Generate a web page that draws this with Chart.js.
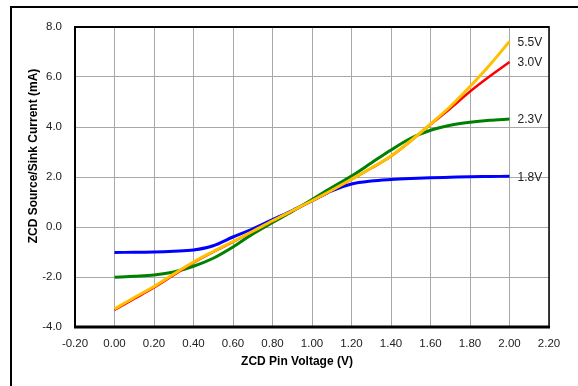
<!DOCTYPE html>
<html>
<head>
<meta charset="utf-8">
<script src="https://cdn.jsdelivr.net/npm/chart.js@4.4.1/dist/chart.umd.min.js"></script>
<style>
  html, body { margin: 0; padding: 0; background: #fff; overflow: hidden; }
  #wrap { position: relative; width: 578px; height: 386px; }
  #frame { position: absolute; left: 10px; top: 6px; width: 700px; height: 500px;
           border: 2px solid #000; box-sizing: border-box; pointer-events: none; }
  canvas { position: absolute; left: 0; top: 0; }
</style>
</head>
<body>
<div id="wrap">
  <div id="frame"></div>
  <canvas id="chart" width="578" height="386"></canvas>
</div>
<script>
// ---------------------------------------------------------------------------
// Data
// ---------------------------------------------------------------------------

const pinVoltage = [0.0, 0.1, 0.2, 0.3, 0.4, 0.5, 0.6, 0.7, 0.8, 0.9, 1.0,
                    1.1, 1.2, 1.3, 1.4, 1.5, 1.6, 1.7, 1.8, 1.9, 2.0];

const cur55 = [-3.28, -2.82, -2.38, -1.88, -1.40, -0.98, -0.58, -0.17, 0.25, 0.65, 1.05,
               1.47, 1.91, 2.36, 2.84, 3.45, 4.12, 4.82, 5.62, 6.48, 7.42];
const cur30 = [-3.32, -2.87, -2.42, -1.92, -1.43, -1.00, -0.60, -0.18, 0.24, 0.64, 1.04,
               1.46, 1.90, 2.35, 2.83, 3.44, 4.10, 4.74, 5.42, 6.03, 6.60];
const cur23 = [-2.01, -1.97, -1.92, -1.80, -1.57, -1.25, -0.80, -0.28, 0.18, 0.62, 1.10,
               1.58, 2.04, 2.56, 3.08, 3.55, 3.87, 4.07, 4.19, 4.27, 4.32];
const cur18 = [-1.02, -1.01, -1.00, -0.97, -0.92, -0.75, -0.40, -0.07, 0.30, 0.66, 1.05,
               1.45, 1.72, 1.84, 1.90, 1.94, 1.97, 1.99, 2.01, 2.02, 2.03];

const seriesLabels = ['5.5V', '3.0V', '2.3V', '1.8V'];
const seriesColors = ['#FFC000', '#FF0000', '#008000', '#0000FF'];
const seriesData = [cur55, cur30, cur23, cur18];

const xTitle = 'ZCD Pin Voltage (V)';
const yTitle = 'ZCD Source/Sink Current (mA)';

const FONT = '"Liberation Sans", Arial, sans-serif';

// ---------------------------------------------------------------------------
// Plugins
// ---------------------------------------------------------------------------

// end-of-line series labels + axis titles + plot border
const decorPlugin = {
  id: 'decor',
  afterDatasetsDraw(chart) {
    const { ctx, chartArea: a, scales } = chart;
    ctx.save();

    // plot border
    ctx.strokeStyle = '#000';
    ctx.lineWidth = 2;
    ctx.beginPath(); ctx.moveTo(a.left, a.top); ctx.lineTo(a.right, a.top); ctx.stroke();
    ctx.beginPath(); ctx.moveTo(a.left, a.top - 1); ctx.lineTo(a.left, a.bottom + 1); ctx.stroke();
    ctx.lineWidth = 1.5;
    ctx.beginPath(); ctx.moveTo(a.right, a.top - 1); ctx.lineTo(a.right, a.bottom); ctx.stroke();
    ctx.lineWidth = 3;
    ctx.beginPath(); ctx.moveTo(a.left - 1, a.bottom); ctx.lineTo(a.right + 1, a.bottom); ctx.stroke();

    // series labels at the end of each line
    ctx.fillStyle = '#222';
    ctx.font = '12px ' + FONT;
    ctx.textAlign = 'left';
    ctx.textBaseline = 'middle';
    chart.data.datasets.forEach(ds => {
      const last = ds.data[ds.data.length - 1];
      const px = scales.x.getPixelForValue(last.x);
      const py = scales.y.getPixelForValue(last.y);
      ctx.fillText(ds.label, px + 8, py + 1);
    });

    // axis titles
    ctx.fillStyle = '#000';
    ctx.font = 'bold 12px ' + FONT;
    ctx.textAlign = 'center';
    ctx.fillText(xTitle, 297, 362);
    ctx.translate(34, 156);
    ctx.rotate(-Math.PI / 2);
    ctx.fillText(yTitle, 0, 0);
    ctx.restore();
  }
};

// ---------------------------------------------------------------------------
// Chart
// ---------------------------------------------------------------------------

const datasets = seriesLabels.map((label, i) => ({
  label,
  data: pinVoltage.map((v, k) => ({ x: v, y: seriesData[i][k] })),
  borderColor: seriesColors[i],
  backgroundColor: seriesColors[i],
  borderWidth: i === 1 ? 2.5 : 3,
  pointRadius: 0,
  cubicInterpolationMode: 'monotone',
  fill: false,
}));

new Chart(document.getElementById('chart'), {
  type: 'line',
  data: { datasets },
  plugins: [decorPlugin],
  options: {
    responsive: false,
    animation: false,
    layout: { padding: { top: 27, right: 29, left: 0, bottom: 0 } },
    plugins: { legend: { display: false }, tooltip: { enabled: false } },
    scales: {
      x: {
        type: 'linear',
        min: -0.2, max: 2.2,
        afterFit: s => { s.height = 59; },
        grid: { color: '#a8a8a8', lineWidth: 1, drawTicks: false },
        border: { display: false },
        ticks: {
          stepSize: 0.2,
          padding: 10,
          color: '#222',
          font: { family: FONT, size: 11.5 },
          maxRotation: 0,
          autoSkip: false,
          callback: v => v.toFixed(2),
        },
      },
      y: {
        type: 'linear',
        min: -4, max: 8,
        afterFit: s => { s.width = 75; },
        grid: { color: '#a8a8a8', lineWidth: 1, drawTicks: false },
        border: { display: false },
        ticks: {
          stepSize: 2,
          padding: 13,
          color: '#222',
          font: { family: FONT, size: 11.5 },
          callback: v => v.toFixed(1),
        },
      },
    },
  },
});
</script>
</body>
</html>
